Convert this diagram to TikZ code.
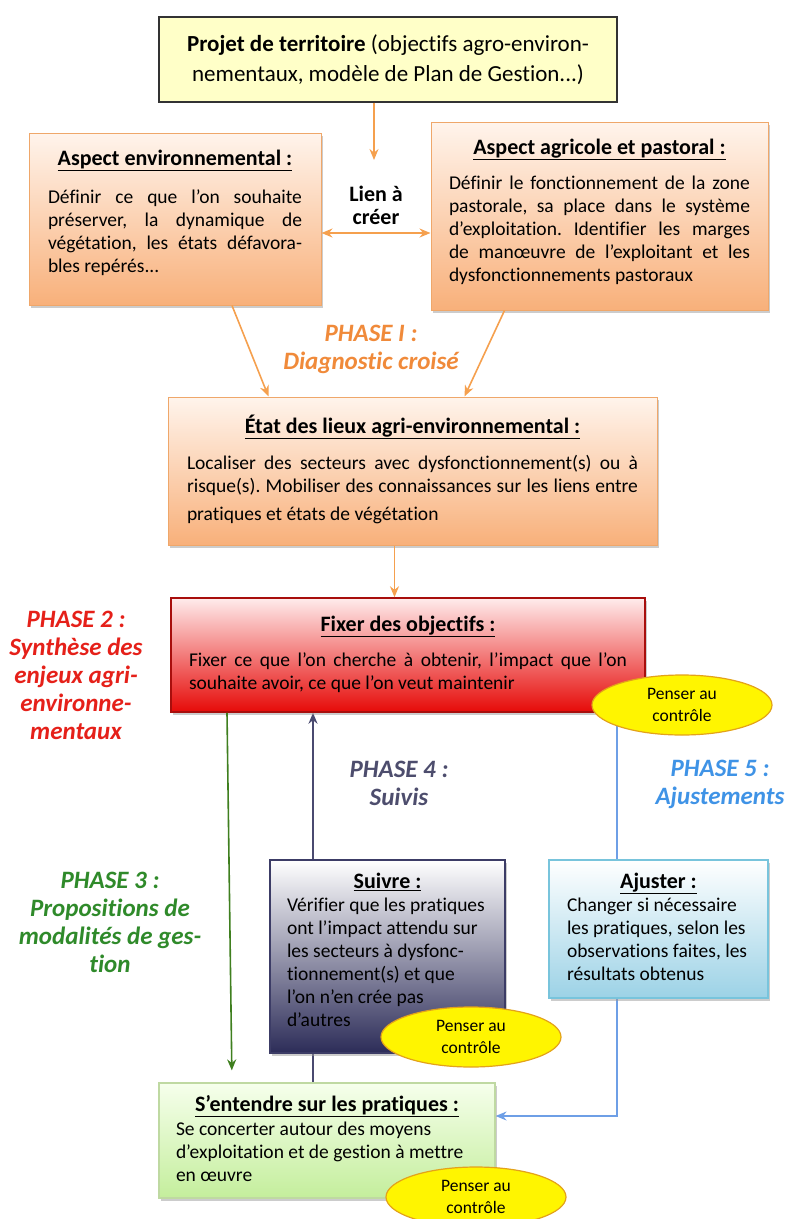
\documentclass[tikz,border=0pt]{standalone}
\usepackage{fontspec}
\setmainfont{Carlito}[Ligatures={TeX,NoCommon}]
\usepackage{tikz}
\usetikzlibrary{
	positioning,
	arrows.meta,
	shapes.geometric,
	shadows,
	backgrounds
}
\frenchspacing

\definecolor{orangeArrow}{HTML}{F5A04E}
\definecolor{orangeTop}{HTML}{FFF4EC}
\definecolor{orangeBot}{HTML}{F8B07A}
\definecolor{orangeLine}{HTML}{EFA76A}
\definecolor{yellowTop}{HTML}{FFFFC8}
\definecolor{redTop}{HTML}{FFECEC}
\definecolor{redBot}{HTML}{E60A08}
\definecolor{redLine}{HTML}{A80E0C}
\definecolor{navyBot}{HTML}{2C2C58}
\definecolor{navyBorder}{HTML}{3C3C66}
\definecolor{blueBot}{HTML}{9CD2E6}
\definecolor{blueBorder}{HTML}{78C4DC}
\definecolor{greenTop}{HTML}{F6FFEC}
\definecolor{greenBot}{HTML}{C4EE9C}
\definecolor{greenBorder}{HTML}{BFD9A2}
\definecolor{ellFill}{HTML}{FFF500}
\definecolor{ellLine}{HTML}{E3A21A}
\definecolor{phaseOne}{HTML}{F08A3A}
\definecolor{phaseTwo}{HTML}{E52019}
\definecolor{phaseThree}{HTML}{2F8A2A}
\definecolor{phaseFour}{HTML}{4D4D6D}
\definecolor{phaseFive}{HTML}{3F93E6}
\definecolor{greenLine}{HTML}{3F7F1F}
\definecolor{navyLine}{HTML}{4A4A70}
\definecolor{blueLine}{HTML}{6E9FE6}

\newcommand{\boxhead}[1]{\centerline{\fontsize{22}{23}\selectfont\bfseries\underline{#1}}}
\newcommand{\boxtext}[3]{\parbox[c][#2][t]{#1}{#3}}
\newcommand{\jline}[1]{\makebox[\linewidth][s]{#1}\\}

\begin{document}
\begin{tikzpicture}[x=1pt,y=-1pt,
	box/.style={rectangle,line width=1pt,inner xsep=18pt,
		font=\fontsize{19.5}{23}\selectfont,
		drop shadow={shadow xshift=2pt,shadow yshift=-3pt,fill=black!40}},
	orangebox/.style={box,draw=orangeLine,top color=orangeTop,bottom color=orangeBot},
	redbox/.style={box,draw=redLine,line width=1.5pt,top color=redTop,bottom color=redBot},
	navybox/.style={box,draw=navyBorder,line width=1.5pt,top color=white,bottom color=navyBot},
	bluebox/.style={box,draw=blueBorder,line width=1.2pt,top color=white,bottom color=blueBot},
	greenbox/.style={box,draw=greenBorder,line width=1.2pt,top color=greenTop,bottom color=greenBot},
	penser/.style={ellipse,draw=ellLine,line width=1.2pt,fill=ellFill,
		minimum width=180pt,minimum height=60pt,inner sep=0pt,align=center,
		font=\fontsize{17.5}{22}\selectfont},
	phase/.style={align=center,font=\fontsize{25}{28}\selectfont\bfseries\itshape},
	flow/.style={draw=orangeArrow,line width=1.6pt,-{Stealth[length=11pt,width=9pt]}},
]
	\useasboundingbox (0,0) rectangle (787,1219);

	\node [draw=black!80,line width=1.2pt,fill=yellowTop,minimum width=458pt,minimum height=85pt,
		align=center,font=\fontsize{23}{30}\selectfont]                  (projet) at (388,59.5)
		{\textbf{Projet de territoire} (objectifs agro-environ-\\nementaux, modèle de Plan de Gestion...)};
	\node [orangebox,inner xsep=19pt,inner ysep=17pt]                    (env) at (175,219)
		{\boxtext{254pt}{138pt}{\boxhead{Aspect environnemental :}\vspace{15pt}\jline{Définir ce que l'on souhaite}
		\jline{préserver, la dynamique de}\jline{végétation, les états défavora-}bles repérés...}};
	\node [orangebox,inner xsep=18pt,inner ysep=17pt]                    (agri) at (599.5,216)
		{\boxtext{301pt}{154pt}{\boxhead{Aspect agricole et pastoral :}\vspace{12pt}\jline{Définir le fonctionnement de la zone}
		\jline{pastorale, sa place dans le système}\jline{d'exploitation. Identifier les marges}
		\jline{de manœuvre de l'exploitant et les}dysfonctionnements pastoraux}};
	\node [font=\fontsize{22}{23}\selectfont\bfseries,align=center]      (lien) at (376,205) {Lien à\\créer};
	\coordinate (lienTop) at (374,160);
	\node [phase,text=phaseOne]                                          (phaseI) at (371,349) {PHASE I :\\Diagnostic croisé};
	\node [orangebox,inner xsep=19pt,inner ysep=18pt]                    (etat) at (412.5,471)
		{\boxtext{451pt}{112pt}{\boxhead{État des lieux agri-environnemental :}\vspace{13pt}\jline{Localiser des secteurs avec dysfonctionnement(s) ou à}
		\jline{risque(s). Mobiliser des connaissances sur les liens entre}[5pt]pratiques et états de végétation}};
	\node [redbox,inner xsep=18pt,inner ysep=18pt]                       (fixer) at (408,655)
		{\boxtext{438pt}{78pt}{\boxhead{Fixer des objectifs :}\vspace{12pt}\jline{Fixer ce que l’on cherche à obtenir, l’impact que l’on}
		souhaite avoir, ce que l’on veut maintenir}};
	\node [penser]                                                       (penserFixer) at (682,705) {Penser au\\contrôle};
	\node [phase,text=phaseTwo]                                          (phaseII) at (76,675) {PHASE 2 :\\Synthèse des\\enjeux agri-\\environne-\\mentaux};
	\node [phase,text=phaseFour]                                         (phaseIV) at (399,783) {PHASE 4 :\\Suivis};
	\node [phase,text=phaseFive]                                         (phaseV) at (720,784) {PHASE 5 :\\Ajustements};
	\node [phase,text=phaseThree]                                        (phaseIII) at (110,922) {PHASE 3 :\\Propositions de\\modalités de ges-\\tion};
	\node [navybox,inner xsep=17pt,inner ysep=13pt]                      (suivre) at (387.5,956.5)
		{\boxtext{201pt}{167pt}{\raggedright\boxhead{Suivre :}Vérifier que les pratiques\\ont l’impact attendu sur\\les secteurs à dysfonc-\\tionnement(s) et que\\l’on n’en crée pas\\d’autres}};
	\node [bluebox,inner xsep=18pt,inner ysep=13pt]                      (ajuster) at (658.5,929)
		{\boxtext{183pt}{112pt}{\raggedright\boxhead{Ajuster :}Changer si nécessaire\\les pratiques, selon les\\observations faites, les\\résultats obtenus}};
	\node [greenbox,inner xsep=17pt,inner ysep=12pt]                     (sentendre) at (327,1140.5)
		{\boxtext{302pt}{91pt}{\raggedright\boxhead{S’entendre sur les pratiques :}\vspace{1pt}Se concerter autour des moyens\\d’exploitation et de gestion à mettre\\en œuvre}};
	\node [penser]                                                       (penserSuivre) at (471,1037) {Penser au\\contrôle};
	\node [penser]                                                       (penserEntendre) at (476,1197) {Penser au\\contrôle};

	\draw [flow] ([xshift=-14pt]projet.south) -- (lienTop);
	\draw [flow,{Stealth[length=11pt,width=9pt]}-{Stealth[length=11pt,width=9pt]}]
		([yshift=-14pt]env.east) -- ([yshift=-14pt]env.east -| agri.west);
	\draw [flow] ([xshift=57pt]env.south) -- ([xshift=-144pt]etat.north);
	\draw [flow] ([xshift=-95pt]agri.south) -- ([xshift=52pt]etat.north);
	\draw [flow] ([xshift=-18pt]etat.south) -- ([xshift=-18pt]etat.south |- fixer.north);
	\draw [draw=greenLine,line width=1.6pt,-{Stealth[length=11pt,width=9pt]},shorten >=12pt]
		([xshift=-181pt]fixer.south) -- ([xshift=-95pt]sentendre.north);
	\begin{pgfonlayer}{background}
		\draw [draw=navyLine,line width=1.6pt,-{Stealth[length=11pt,width=9pt]}]
			([xshift=-14pt]sentendre.north) -- ([xshift=-14pt]sentendre.north |- fixer.south);
		\draw [draw=blueLine,line width=1.6pt,-{Stealth[length=11pt,width=9pt]}]
			([xshift=209pt]fixer.south) |- ([yshift=24.5pt]sentendre.east);
	\end{pgfonlayer}
\end{tikzpicture}
\end{document}
